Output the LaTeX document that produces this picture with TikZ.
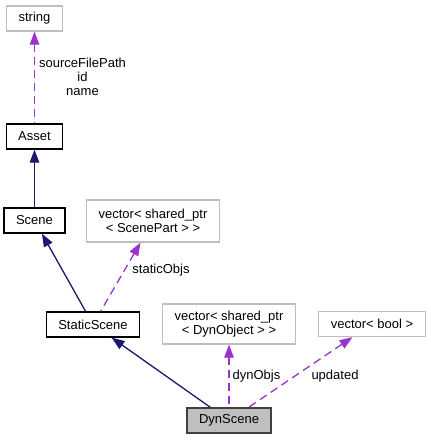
\documentclass[tikz,border=0pt]{standalone}
\usepackage{fontspec}
\setmainfont{Liberation Sans}
\usepackage{tikz}
\usetikzlibrary{arrows.meta}
\definecolor{dx-inherit}{HTML}{191970}
\definecolor{dx-usage}{HTML}{9A32CD}
\definecolor{dx-ext}{HTML}{BFBFBF}
\definecolor{dx-cur}{HTML}{BFBFBF}
\definecolor{dx-curline}{HTML}{404040}

\begin{document}
\begin{tikzpicture}[
    x=1pt, y=-1pt,
    font=\fontsize{13}{14}\selectfont,
    >={Triangle[length=13pt, width=9.5pt]}
  ]

  \tikzset{
    cls/.style={draw=black, line width=1.3pt, fill=white, minimum height=25pt, inner xsep=12pt, align=center},
    ext/.style={draw=dx-ext, line width=1.3pt, fill=white, minimum height=25pt, inner xsep=12pt, align=center},
    cur/.style={cls, draw=dx-curline, fill=dx-cur},
    inherit/.style={<-, dx-inherit, line width=1.3pt},
    usage/.style={<-, dx-usage, line width=1.3pt, dash pattern=on 8pt off 5pt},
    lbl/.style={text=black, align=center, inner sep=1pt}
  }

  \useasboundingbox (0,0) rectangle (431,440);

  % Nodes
  \node (str)     [ext] at (34.5,18.5) {string};
  \node (asset)   [cls] at (34.5,136.5) {Asset};
  \node (scene)   [cls] at (34.5,220.5) {Scene};
  \node (parts)   [ext, minimum width=130pt, minimum height=42pt] at (153,221) {vector< shared\_ptr\\< ScenePart > >};
  \node (static)  [cls] at (93,324.5) {StaticScene};
  \node (dynobjs) [ext, minimum width=132pt, minimum height=40pt] at (229,324) {vector< shared\_ptr\\< DynObject > >};
  \node (flags)   [ext] at (372,324) {vector< bool >};
  \node (dyn)     [cur] at (229,420.5) {DynScene};

  % Connections
  \draw[usage]   (str) -- (asset);
  \draw[inherit] (asset) -- (scene);
  \draw[inherit] (scene) -- (static);
  \draw[usage]   (parts) -- (static);
  \draw[inherit] (static) -- (dyn);
  \draw[usage]   (dynobjs) -- (dyn);
  \draw[usage]   (flags) -- (dyn);

  % Labels
  \node (lblstr)     [lbl] at (82.5,77) {sourceFilePath\\id\\name};
  \node (lblparts)   [lbl] at (161,270) {staticObjs};
  \node (lbldynobjs) [lbl] at (256.5,376) {dynObjs};
  \node (lblflags)   [lbl] at (335,376) {updated};

\end{tikzpicture}
\end{document}
